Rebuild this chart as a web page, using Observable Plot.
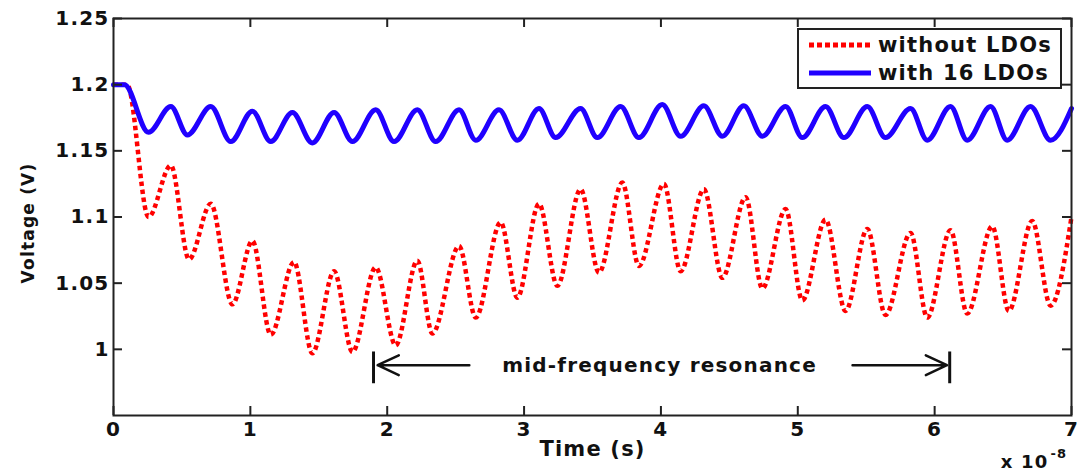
<!DOCTYPE html>
<html><head><meta charset="utf-8">
<script src="https://cdn.jsdelivr.net/npm/d3@7"></script>
<script src="https://cdn.jsdelivr.net/npm/@observablehq/plot@0.6"></script>
<style>
body{margin:0;background:#fff;}
#wrap{position:relative;width:1080px;height:474px;}
#legend{position:absolute;left:797px;top:28px;width:261px;height:57px;border:2px solid #222;background:#fff;
  font-family:"DejaVu Sans",sans-serif;font-weight:bold;font-size:21px;color:#111;letter-spacing:1.2px;}
#legend .row{position:absolute;left:0;height:28px;display:flex;align-items:center;}
#legend svg{display:block;margin-left:10px;margin-right:7px;}
</style></head>
<body><div id="wrap"><div id="legend"></div></div>
<script>
// time in units of 1e-8 s
const redT = [0, 0.1, 0.256, 0.419, 0.552, 0.711, 0.869, 1.015, 1.149, 1.319, 1.453, 1.612,
  1.746, 1.916, 2.062, 2.22, 2.33, 2.525, 2.647, 2.829, 2.951, 3.109,
  3.243, 3.413, 3.547, 3.718, 3.839, 4.022, 4.144, 4.314, 4.449, 4.619,
  4.741, 4.911, 5.033, 5.203, 5.349, 5.508, 5.641, 5.824, 5.946, 6.116,
  6.238, 6.421, 6.542, 6.713, 6.847, 7.0];
const redV = [1.2, 1.2, 1.100, 1.139, 1.068, 1.110, 1.034, 1.082, 1.011, 1.066, 0.997, 1.059,
  0.998, 1.062, 1.003, 1.067, 1.012, 1.078, 1.024, 1.096, 1.039, 1.110,
  1.048, 1.121, 1.058, 1.126, 1.063, 1.125, 1.059, 1.121, 1.054, 1.115,
  1.046, 1.106, 1.037, 1.098, 1.029, 1.091, 1.026, 1.088, 1.024, 1.090,
  1.027, 1.093, 1.029, 1.097, 1.033, 1.100];
const blueT = [0, 0.08, 0.256, 0.419, 0.54, 0.711, 0.857, 1.015, 1.149, 1.307, 1.453, 1.612,
  1.746, 1.916, 2.05, 2.22, 2.354, 2.525, 2.647, 2.817, 2.951, 3.109,
  3.231, 3.413, 3.535, 3.706, 3.839, 4.010, 4.144, 4.314, 4.449, 4.606,
  4.741, 4.911, 5.033, 5.203, 5.337, 5.508, 5.641, 5.824, 5.946, 6.116,
  6.238, 6.409, 6.530, 6.701, 6.847, 7.0];
const blueV = [1.2, 1.2, 1.164, 1.1835, 1.162, 1.1835, 1.157, 1.180, 1.157, 1.179, 1.156, 1.179,
  1.157, 1.181, 1.157, 1.181, 1.157, 1.181, 1.158, 1.181, 1.158, 1.182,
  1.160, 1.182, 1.160, 1.1835, 1.160, 1.185, 1.161, 1.184, 1.161, 1.184,
  1.161, 1.1835, 1.160, 1.1835, 1.160, 1.1835, 1.160, 1.182, 1.158, 1.1835,
  1.158, 1.1835, 1.158, 1.1835, 1.158, 1.182];
const seriesNames = ["without LDOs", "with 16 LDOs"];
const xTicks = [0, 1, 2, 3, 4, 5, 6, 7];
const xTickLabels = ["0", "1", "2", "3", "4", "5", "6", "7"];
const yTicks = [1, 1.05, 1.1, 1.15, 1.2, 1.25];
const yTickLabels = ["1", "1.05", "1.1", "1.15", "1.2", "1.25"];
const annoBarsT = [1.9, 6.11];
const annoTailT = [2.6, 5.4];
const annoTipT = [1.93, 6.09];
const annoY = 0.988;
const annoBarY = [0.974, 0.998];
const annoText = "mid-frequency resonance";
const annoTextT = 3.99;

const red = redT.map((t, i) => ({t, v: redV[i]}));
const blue = blueT.map((t, i) => ({t, v: blueV[i]}));
const arrows = annoTailT.map((t, i) => ({x1: t, x2: annoTipT[i], y: annoY}));

const RED = "#ff0000", BLUE = "#2000ff", INK = "#111";
const W = 1080, H = 474, ML = 113, MR = 9, MT = 18, MB = 59, TICK = 9;
const frameW = W - ML - MR, frameH = H - MT - MB;

const chart = Plot.plot({
  width: W, height: H,
  marginLeft: ML, marginRight: MR, marginTop: MT, marginBottom: MB,
  x: {domain: [0, 7]},
  y: {domain: [0.95, 1.25]},
  style: {fontFamily: '"DejaVu Sans", sans-serif', fontWeight: "bold", fontSize: "20px", color: INK, background: "#fff", letterSpacing: "1.2px"},
  marks: [
    Plot.line(red, {x: "t", y: "v", stroke: RED, strokeWidth: 4.5, strokeDasharray: "4.5,3.5", strokeLinecap: "butt", strokeLinejoin: "miter", curve: "monotone-x"}),
    Plot.line(blue, {x: "t", y: "v", stroke: BLUE, strokeWidth: 5, curve: "monotone-x"}),
    Plot.frame({stroke: "#222", strokeWidth: 2}),
    // inward ticks on all four sides
    Plot.tickX(xTicks, {x: d => d, insetTop: frameH - TICK, stroke: "#222", strokeWidth: 2}),
    Plot.tickX(xTicks, {x: d => d, insetBottom: frameH - TICK, stroke: "#222", strokeWidth: 2}),
    Plot.tickY(yTicks, {y: d => d, insetRight: frameW - TICK, stroke: "#222", strokeWidth: 2}),
    Plot.tickY(yTicks, {y: d => d, insetLeft: frameW - TICK, stroke: "#222", strokeWidth: 2}),
    Plot.axisX(xTicks, {anchor: "bottom", tickSize: 0, tickPadding: 6, tickFormat: d => xTickLabels[xTicks.indexOf(d)], label: null, fontSize: 20}),
    Plot.axisY(yTicks, {anchor: "left", tickSize: 0, tickPadding: 4, tickFormat: d => yTickLabels[yTicks.indexOf(d)], label: null, fontSize: 20}),
    Plot.text(["Time (s)"], {frameAnchor: "bottom", dy: 40, fontSize: 21, fill: INK}),
    Plot.text(["Voltage (V)"], {frameAnchor: "left", textAnchor: "middle", rotate: -90, dx: -85, dy: 6, fontSize: 17, fill: INK}),
    Plot.text(["x 10"], {frameAnchor: "bottom-right", textAnchor: "end", dx: -23, dy: 52, fontSize: 18, fill: INK}),
    Plot.text(["-8"], {frameAnchor: "bottom-right", textAnchor: "start", dx: -21, dy: 42, fontSize: 13, fill: INK}),
    Plot.ruleX(annoBarsT, {x: d => d, y1: annoBarY[0], y2: annoBarY[1], stroke: INK, strokeWidth: 3}),
    Plot.arrow(arrows, {x1: "x1", x2: "x2", y1: "y", y2: "y", stroke: INK, strokeWidth: 2.5, headLength: 14, headAngle: 50}),
    Plot.text([annoText], {x: annoTextT, y: annoY, fontSize: 20, fill: INK})
  ]
});
document.getElementById("wrap").prepend(chart);

// legend
const legend = document.getElementById("legend");
[{name: seriesNames[0], color: RED, dash: "5,3", w: 5}, {name: seriesNames[1], color: BLUE, dash: null, w: 5}].forEach((s, i) => {
  const row = document.createElement("div");
  row.className = "row";
  row.style.top = (i * 28 + 1) + "px";
  const ns = "http://www.w3.org/2000/svg";
  const svg = document.createElementNS(ns, "svg");
  svg.setAttribute("width", 62); svg.setAttribute("height", 10);
  const ln = document.createElementNS(ns, "line");
  ln.setAttribute("x1", 0); ln.setAttribute("x2", 62); ln.setAttribute("y1", 5); ln.setAttribute("y2", 5);
  ln.setAttribute("stroke", s.color); ln.setAttribute("stroke-width", s.w);
  if (s.dash) ln.setAttribute("stroke-dasharray", s.dash);
  svg.appendChild(ln);
  row.appendChild(svg);
  const sp = document.createElement("span");
  sp.textContent = s.name;
  row.appendChild(sp);
  legend.appendChild(row);
});
</script>
</body></html>
